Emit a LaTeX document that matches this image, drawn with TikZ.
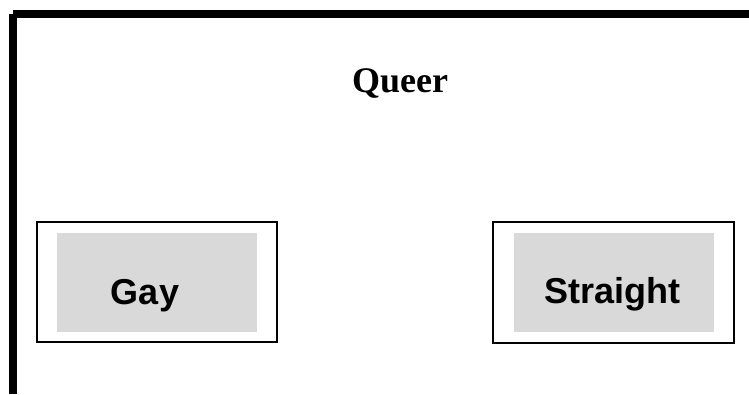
\documentclass[tikz,border=0pt]{standalone}
\usepackage{fontspec}
\setmainfont{Liberation Serif}
\newfontfamily\arialfont{Liberation Sans}
\begin{document}
\begin{tikzpicture}[x=1pt,y=-1pt,
  framebar/.style={fill=black,draw=none},
  outerbox/.style={draw=black,line width=1.6pt,fill=white,minimum width=240pt,minimum height=120pt,inner sep=0pt},
  graybox/.style={fill=graybg,draw=none,minimum width=200pt,minimum height=99pt,inner sep=0pt},
  boxlabel/.style={anchor=base,inner sep=0pt,font=\arialfont\bfseries\fontsize{36}{40}\selectfont},
  titlelabel/.style={anchor=base,inner sep=0pt,font=\bfseries\fontsize{36}{40}\selectfont}]
\definecolor{graybg}{HTML}{D9D9D9}
\useasboundingbox (0,0) rectangle (749,394);
\fill[white] (0,0) rectangle (749,394);
% frame
\path[framebar] (13,10) rectangle (749,18);
\path[framebar] (9,14) rectangle (17,394);
% title
\node[titlelabel] (queer) at (400,92) {Queer};
% Gay
\node[outerbox] (gayout) at (157,282) {};
\node[graybox] (gayin) at (157,282) {};
\node[boxlabel] (gay) at (145,304) {Gay};
% Straight
\node[outerbox,minimum width=241pt,minimum height=121pt] (strout) at (613.5,282.5) {};
\node[graybox] (strin) at (614,282.5) {};
\node[boxlabel] (straight) at (612,303) {Straight};
\end{tikzpicture}
\end{document}
